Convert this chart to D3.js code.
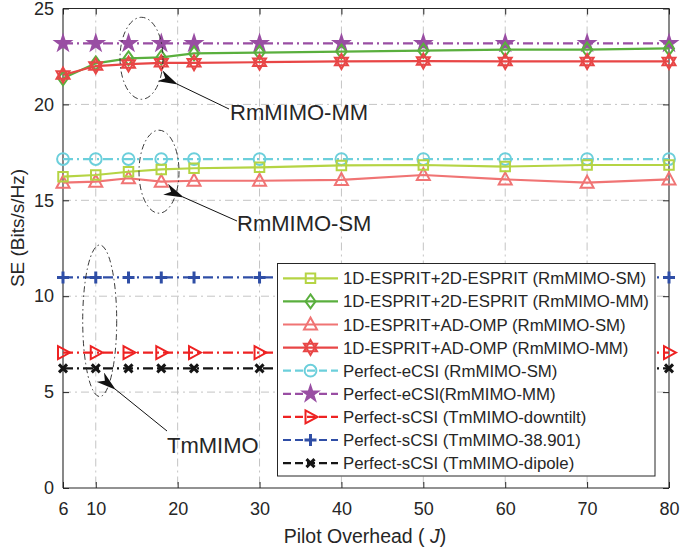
<!DOCTYPE html>
<html><head><meta charset="utf-8">
<script src="https://cdn.jsdelivr.net/npm/d3@7"></script>
<style>body{margin:0;background:#fff}svg{display:block}text{font-family:"Liberation Sans",Arial,Helvetica,sans-serif;fill:#262626}</style>
</head><body>
<svg id="c" width="681" height="550"></svg>
<script>
const pilots = [6, 10, 14, 18, 22, 30, 40, 50, 60, 70, 80];
const xTicks = [6, 10, 20, 30, 40, 50, 60, 70, 80];
const yTicks = [0, 5, 10, 15, 20, 25];
const seriesNames = [
  "1D-ESPRIT+2D-ESPRIT (RmMIMO-SM)",
  "1D-ESPRIT+2D-ESPRIT (RmMIMO-MM)",
  "1D-ESPRIT+AD-OMP (RmMIMO-SM)",
  "1D-ESPRIT+AD-OMP (RmMIMO-MM)",
  "Perfect-eCSI (RmMIMO-SM)",
  "Perfect-eCSI(RmMIMO-MM)",
  "Perfect-sCSI (TmMIMO-downtilt)",
  "Perfect-sCSI (TmMIMO-38.901)",
  "Perfect-sCSI (TmMIMO-dipole)"
];
const espritSM = [16.23, 16.32, 16.49, 16.61, 16.67, 16.72, 16.82, 16.84, 16.76, 16.84, 16.84];
const espritMM = [21.36, 22.14, 22.40, 22.45, 22.66, 22.70, 22.75, 22.80, 22.86, 22.86, 22.92];
const ompSM    = [15.92, 15.97, 16.15, 15.97, 16.02, 16.02, 16.06, 16.32, 16.09, 15.92, 16.09];
const ompMM    = [21.53, 22.00, 22.10, 22.17, 22.17, 22.20, 22.24, 22.26, 22.24, 22.24, 22.24];
const eCsiSM   = [17.15, 17.15, 17.15, 17.15, 17.15, 17.15, 17.15, 17.15, 17.15, 17.15, 17.15];
const eCsiMM   = [23.18, 23.18, 23.18, 23.18, 23.18, 23.18, 23.18, 23.18, 23.18, 23.18, 23.18];
const sCsiDowntilt = [7.06, 7.06, 7.06, 7.06, 7.06, 7.06, 7.06, 7.06, 7.06, 7.06, 7.06];
const sCsi38901    = [10.98, 10.98, 10.98, 10.98, 10.98, 10.98, 10.98, 10.98, 10.98, 10.98, 10.98];
const sCsiDipole   = [6.24, 6.24, 6.24, 6.24, 6.24, 6.24, 6.24, 6.24, 6.24, 6.24, 6.24];
const seriesValues = [espritSM, espritMM, ompSM, ompMM, eCsiSM, eCsiMM, sCsiDowntilt, sCsi38901, sCsiDipole];
const annotations = ["RmMIMO-MM", "RmMIMO-SM", "TmMIMO"];

const styles = [
  {color:"#b5d444", dash:null, marker:"square"},
  {color:"#5aaf3e", dash:null, marker:"diamond"},
  {color:"#f07474", dash:null, marker:"triangle"},
  {color:"#e84646", dash:null, marker:"hexagram"},
  {color:"#6ccfdb", dash:"10,4,2,4", marker:"circle"},
  {color:"#994ea3", dash:"10,4,2,4", marker:"star"},
  {color:"#ee2222", dash:"10,4,2,4", marker:"rtriangle"},
  {color:"#2f4ea6", dash:"10,4,2,4", marker:"plus"},
  {color:"#151515", dash:"10,4,2,4", marker:"x"}
];

const svg = d3.select("#c");
const L = 63, R = 669, T = 8.5, B = 488;
const x = d3.scaleLinear().domain([6, 80]).range([L, R]);
const y = d3.scaleLinear().domain([0, 25]).range([B, T]);

// grid
const g = svg.append("g");
g.selectAll(".gx").data(xTicks.slice(1, -1)).enter().append("line")
  .attr("x1", d => x(d)).attr("x2", d => x(d)).attr("y1", T).attr("y2", B)
  .attr("stroke", "#c4c4c4").attr("stroke-width", 1).attr("stroke-dasharray", "8,4,2,4");
g.selectAll(".gy").data(yTicks.slice(1, -1)).enter().append("line")
  .attr("y1", d => y(d)).attr("y2", d => y(d)).attr("x1", L).attr("x2", R)
  .attr("stroke", "#c4c4c4").attr("stroke-width", 1).attr("stroke-dasharray", "8,4,2,4");

// axes
const ax = svg.append("g").attr("transform", `translate(0,${B})`)
  .call(d3.axisBottom(x).tickValues(xTicks).tickSize(-6).tickPadding(14).tickFormat(d3.format("d")));
const ay = svg.append("g").attr("transform", `translate(${L},0)`)
  .call(d3.axisLeft(y).tickValues(yTicks).tickSize(-6).tickPadding(9).tickFormat(d3.format("d")));
const axT = svg.append("g").attr("transform", `translate(0,${T})`)
  .call(d3.axisTop(x).tickValues(xTicks).tickSize(-6).tickFormat(""));
const ayR = svg.append("g").attr("transform", `translate(${R},0)`)
  .call(d3.axisRight(y).tickValues(yTicks).tickSize(-6).tickFormat(""));
[ax, ay, axT, ayR].forEach(a => {
  a.select(".domain").attr("stroke", "#262626").attr("stroke-width", 1.1);
  a.selectAll(".tick line").attr("stroke", "#262626");
  a.selectAll("text").attr("font-size", 18).attr("fill", "#262626")
   .attr("font-family", "Liberation Sans, Arial, sans-serif");
});
ax.selectAll(".domain").attr("d", `M${L},0H${R}`);
ay.selectAll(".domain").attr("d", `M0,${B}V${T}`);
axT.selectAll(".domain").attr("d", `M${L},0H${R}`);
ayR.selectAll(".domain").attr("d", `M0,${B}V${T}`);

// marker shapes
function markerPath(type) {
  switch (type) {
    case "square": return d3.symbol(d3.symbolSquare, 90)();
    case "diamond": return "M0,-7L5,0L0,7L-5,0Z";
    case "triangle": return "M0,-7L6.5,5L-6.5,5Z";
    case "circle": return d3.symbol(d3.symbolCircle, 110)();
    case "star": return d3.symbol(d3.symbolStar, 68)();
    case "rtriangle": return "M7,0L-5,-6.5L-5,6.5Z";
    case "plus": return "M-6,0H6M0,-6V6";
    case "x": return "M-4,-4L4,4M-4,4L4,-4";
    case "hexagram": {
      const r = 7.5, p1 = [], p2 = [];
      for (let i = 0; i < 3; i++) {
        const a1 = -Math.PI / 2 + i * 2 * Math.PI / 3, a2 = Math.PI / 2 + i * 2 * Math.PI / 3;
        p1.push([r * Math.cos(a1), r * Math.sin(a1)]);
        p2.push([r * Math.cos(a2), r * Math.sin(a2)]);
      }
      return "M" + p1.join("L") + "Z" + "M" + p2.join("L") + "Z";
    }
  }
}
function drawMarker(sel, st) {
  const filled = st.marker === "star";
  sel.append("path").attr("d", markerPath(st.marker))
    .attr("fill", filled ? st.color : "none")
    .attr("stroke", st.color)
    .attr("stroke-width", st.marker === "x" || st.marker === "plus" ? 3 : 2)
    .attr("stroke-linejoin", "miter");
}

// series
const line = d3.line().x((d, i) => x(pilots[i])).y(d => y(d));
const order = [8, 7, 6, 4, 2, 0, 5, 1, 3];
order.forEach(k => {
  const st = styles[k];
  const sg = svg.append("g");
  sg.append("path").attr("d", line(seriesValues[k])).attr("fill", "none")
    .attr("stroke", st.color).attr("stroke-width", 2.2)
    .attr("stroke-dasharray", st.dash);
  seriesValues[k].forEach((v, i) => {
    drawMarker(sg.append("g").attr("transform", `translate(${x(pilots[i])},${y(v)})`), st);
  });
});

// annotations
const defs = svg.append("defs");
defs.append("marker").attr("id", "ah").attr("viewBox", "0 0 20 12").attr("refX", 1).attr("refY", 6)
  .attr("markerWidth", 20).attr("markerHeight", 12).attr("markerUnits", "userSpaceOnUse").attr("orient", "auto-start-reverse")
  .append("path").attr("d", "M0,6L20,0L14,6L20,12Z").attr("fill", "#111");
const ann = [
  {ex:141.5, ey:58.3, rx:21.5, ry:41, tip:[177,84], tail:[229,109], tx:230, ty:120, text:annotations[0]},
  {ex:159, ey:171.7, rx:20, ry:41.5, tip:[183,197], tail:[237,221], tx:237, ty:231, text:annotations[1]},
  {ex:99.7, ey:320.8, rx:17, ry:75.8, tip:[115,389], tail:[167,431], tx:167, ty:453, text:annotations[2]}
];
ann.forEach(a => {
  svg.append("ellipse").attr("cx", a.ex).attr("cy", a.ey).attr("rx", a.rx).attr("ry", a.ry)
    .attr("fill", "none").attr("stroke", "#222").attr("stroke-width", 0.9).attr("stroke-dasharray", "6,3,1.5,3");
  svg.append("line").attr("x1", a.tip[0]).attr("y1", a.tip[1]).attr("x2", a.tail[0]).attr("y2", a.tail[1])
    .attr("stroke", "#111").attr("stroke-width", 1).attr("marker-start", "url(#ah)");
  svg.append("text").attr("x", a.tx).attr("y", a.ty).attr("font-size", 22).text(a.text);
});

// legend
const lg = svg.append("g");
lg.append("rect").attr("x", 277.5).attr("y", 263.5).attr("width", 377.5).attr("height", 212.5)
  .attr("fill", "#fff").attr("stroke", "#262626").attr("stroke-width", 1);
seriesNames.forEach((name, k) => {
  const st = styles[k];
  const ry = 278.3 + k * 23.1;
  lg.append("line").attr("x1", 283).attr("x2", 338).attr("y1", ry).attr("y2", ry)
    .attr("stroke", st.color).attr("stroke-width", 2.2).attr("stroke-dasharray", st.dash ? "8,4" : null);
  drawMarker(lg.append("g").attr("transform", `translate(310.5,${ry})`), st);
  lg.append("text").attr("x", 343).attr("y", ry).attr("dy", "0.36em").attr("font-size", 16.8).text(name);
});

// axis labels
svg.append("text").attr("x", 365).attr("y", 543).attr("text-anchor", "middle").attr("font-size", 19.5)
  .html('Pilot Overhead ( <tspan font-style="italic">J</tspan>)');
svg.append("text").attr("transform", "translate(24,228) rotate(-90)").attr("text-anchor", "middle")
  .attr("font-size", 19).text("SE (Bits/s/Hz)");
</script>
</body></html>
